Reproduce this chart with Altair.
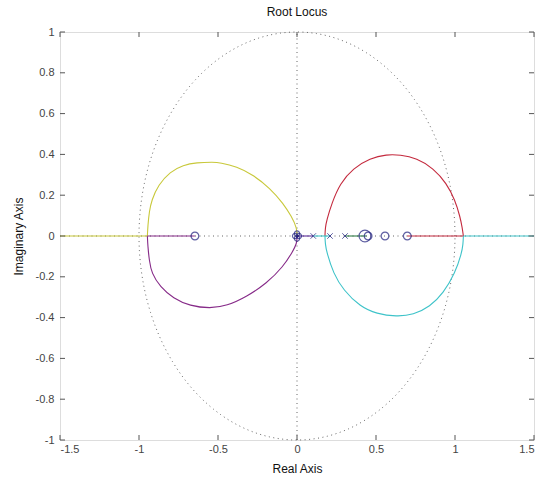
import altair as alt
import numpy as np
import pandas as pd

# ---- data ----
# left loop (upper = yellow, lower = purple)
yel_x = [-0.947, -0.944, -0.935, -0.92, -0.878, -0.804, -0.72, -0.635, -0.53, -0.487, -0.382, -0.276, -0.171, -0.087, -0.034, 0.0, 0.0]
yel_y = [0.0, 0.05, 0.12, 0.176, 0.25, 0.315, 0.348, 0.36, 0.362, 0.36, 0.34, 0.299, 0.234, 0.16, 0.095, 0.038, 0.0]
pur_x = [-0.947, -0.944, -0.935, -0.92, -0.867, -0.783, -0.677, -0.55, -0.445, -0.318, -0.192, -0.087, -0.03, 0.0, 0.0]
pur_y = [0.0, -0.05, -0.12, -0.183, -0.248, -0.306, -0.343, -0.355, -0.343, -0.297, -0.232, -0.15, -0.08, -0.035, 0.0]
# right loop (upper = red, lower = cyan)
red_x = [0.177, 0.179, 0.188, 0.22, 0.272, 0.356, 0.462, 0.568, 0.652, 0.758, 0.863, 0.947, 1.0, 1.032, 1.046, 1.053]
red_y = [0.0, 0.04, 0.078, 0.16, 0.258, 0.332, 0.381, 0.40, 0.398, 0.381, 0.332, 0.258, 0.176, 0.095, 0.04, 0.0]
cya_x = [0.177, 0.179, 0.188, 0.23, 0.293, 0.399, 0.504, 0.631, 0.736, 0.842, 0.926, 1.0, 1.042, 1.051, 1.053]
cya_y = [0.0, -0.04, -0.08, -0.183, -0.265, -0.346, -0.382, -0.395, -0.387, -0.346, -0.281, -0.183, -0.085, -0.04, 0.0]

# real-axis segments: (x start, x end, colour key)
seg_start = [-1.5, -0.947, 0.0, 0.103, 0.304, 0.698, 1.053]
seg_end = [-0.947, -0.646, 0.103, 0.209, 0.44, 1.053, 1.5]
seg_key = ["yellow", "purple", "violet", "cyan", "green", "red", "cyan"]

# poles (x) and zeros (o)
pole_x = [0.103, 0.209, 0.304]
pole_y = [0.0, 0.0, 0.0]
zero_x = [-0.646, -0.012, 0.012, 0.0, 0.0, 0.43, 0.45, 0.557, 0.698]
zero_y = [0.0, 0.0, 0.0, 0.012, -0.012, 0.0, 0.0, 0.0, 0.0]
zero_size = [60, 28, 28, 28, 28, 140, 60, 60, 60]

x_ticks = [-1.5, -1, -0.5, 0, 0.5, 1, 1.5]
y_ticks = [-1, -0.8, -0.6, -0.4, -0.2, 0, 0.2, 0.4, 0.6, 0.8, 1]

color_keys = ["yellow", "purple", "violet", "cyan", "green", "red"]
color_vals = ["#c8c83a", "#862a88", "#5b2d9a", "#3ec3c9", "#2f7d46", "#c42a3e"]

# ---- build tables ----
rows = []
def add(name, key, xs, ys):
    for i, (a, b) in enumerate(zip(xs, ys)):
        rows.append({"branch": name, "key": key, "x": a, "y": b, "o": i})

add("yel", "yellow", yel_x, yel_y)
add("pur", "purple", pur_x, pur_y)
add("red", "red", red_x, red_y)
add("cya", "cyan", cya_x, cya_y)
for i, (s, e, k) in enumerate(zip(seg_start, seg_end, seg_key)):
    add(f"seg{i}", k, [s, e], [0.0, 0.0])
locus = pd.DataFrame(rows)

# reference: unit circle and the two axes, dotted
th = np.linspace(0, 2 * np.pi, 361)
ref = pd.concat([
    pd.DataFrame({"g": "circle", "x": np.cos(th), "y": np.sin(th), "o": np.arange(361)}),
    pd.DataFrame({"g": "h", "x": [-1.5, 1.5], "y": [0, 0], "o": [0, 1]}),
    pd.DataFrame({"g": "v", "x": [0, 0], "y": [-1, 1], "o": [0, 1]}),
])

poles = pd.DataFrame({"x": pole_x, "y": pole_y})
zeros = pd.DataFrame({"x": zero_x, "y": zero_y, "s": zero_size})

xs = alt.Scale(domain=[-1.5, 1.5], nice=False, zero=False)
ys = alt.Scale(domain=[-1, 1], nice=False, zero=False)

common = dict(grid=False, ticks=False, domain=False, labelFont="Liberation Sans", labelFontSize=11,
              labelColor="#444444", titleFont="Liberation Sans", titleFontSize=12,
              titleFontWeight="normal", titleColor="#111111", labelExpr="'' + datum.value")
xax = alt.Axis(values=x_ticks, labelPadding=3, title="Real Axis", titlePadding=9, **common)
yax = alt.Axis(values=y_ticks, labelPadding=6, title="Imaginary Axis", titlePadding=10, **common)

refl = alt.Chart(ref).mark_line(color="#666666", strokeWidth=1, strokeDash=[1, 3.5]).encode(
    x=alt.X("x:Q", scale=xs, axis=xax),
    y=alt.Y("y:Q", scale=ys, axis=yax),
    detail="g:N",
    order="o:Q",
)

lines = alt.Chart(locus).mark_line(strokeWidth=1.1, interpolate="basis").encode(
    x=alt.X("x:Q", scale=xs),
    y=alt.Y("y:Q", scale=ys),
    detail="branch:N",
    order="o:Q",
    color=alt.Color("key:N", scale=alt.Scale(domain=color_keys, range=color_vals), legend=None),
)

px = alt.Chart(poles).mark_point(shape="M-1,-1L1,1M1,-1L-1,1", size=30, filled=False,
                                 color="#1c1c7c", strokeWidth=1).encode(
    x=alt.X("x:Q", scale=xs), y=alt.Y("y:Q", scale=ys))

zo = alt.Chart(zeros).mark_point(shape="circle", filled=False, color="#1c1c7c", strokeWidth=1.2).encode(
    x=alt.X("x:Q", scale=xs), y=alt.Y("y:Q", scale=ys),
    size=alt.Size("s:Q", scale=None, legend=None))

# inward ticks on all four sides
xt = pd.DataFrame({"v": x_ticks})
yt = pd.DataFrame({"v": y_ticks})
tick_col = "#555555"
t_bottom = alt.Chart(xt).mark_rule(color=tick_col).encode(x=alt.X("v:Q", scale=xs), y=alt.value(408), y2=alt.value(403))
t_top = alt.Chart(xt).mark_rule(color=tick_col).encode(x=alt.X("v:Q", scale=xs), y=alt.value(0), y2=alt.value(5))
t_left = alt.Chart(yt).mark_rule(color=tick_col).encode(y=alt.Y("v:Q", scale=ys), x=alt.value(0), x2=alt.value(5))
t_right = alt.Chart(yt).mark_rule(color=tick_col).encode(y=alt.Y("v:Q", scale=ys), x=alt.value(474), x2=alt.value(469))

chart = alt.layer(refl, lines, px, zo, t_bottom, t_top, t_left, t_right).properties(
    width=474, height=408,
    title=alt.Title("Root Locus", fontSize=12, fontWeight="normal", font="Liberation Sans",
                    color="#111111", offset=7),
    autosize=alt.AutoSizeParams(type="none"),
    padding={"left": 60, "top": 32, "right": 10, "bottom": 42},
).configure_view(stroke="#555555", strokeWidth=1).configure(background="white")

chart.save("out.html", embed_options={"renderer": "svg", "actions": False})
